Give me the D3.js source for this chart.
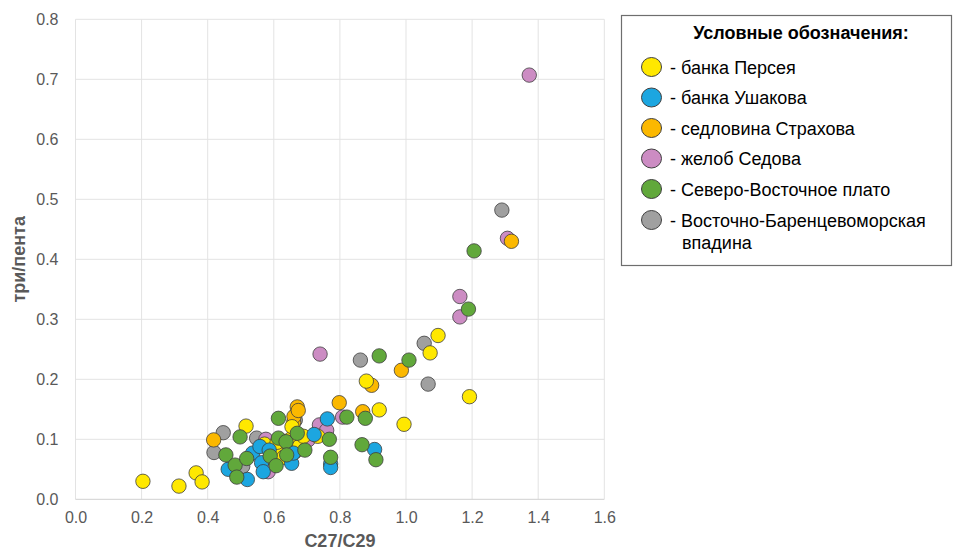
<!DOCTYPE html>
<html>
<head>
<meta charset="utf-8" />
<title>три/пента vs C27/C29</title>
<script src="https://d3js.org/d3.v7.min.js"></script>
<style>
  body, html {
    margin: 0;
    background: #ffffff;
  }
  svg text.tick-label {
    font-family: 'Liberation Sans', Arial, sans-serif;
    font-size: 16px;
    fill: #595959;
  }
  svg text.axis-title {
    font-family: 'Liberation Sans', Arial, sans-serif;
    font-size: 18px;
    font-weight: bold;
    fill: #595959;
  }
  svg text.legend {
    font-family: 'Liberation Sans', Arial, sans-serif;
    font-size: 18px;
    fill: #000000;
  }
</style>
</head>
<body>
<svg id="viz"></svg>
<script>

// series names
var seriesNames = ['банка Персея', 'банка Ушакова', 'седловина Страхова',
  'желоб Седова', 'Северо-Восточное плато', 'Восточно-Баренцевоморская впадина'];
var seriesColors = ['#ffe800', '#1ca6e0', '#fbb800', '#cc8cc3', '#61a83b', '#a0a0a0'];

// [C27/C29, три/пента]
var persei = [[0.204,0.030],[0.313,0.022],[0.365,0.044],[0.383,0.029],[0.516,0.122],
  [0.572,0.092],[0.600,0.080],[0.620,0.085],[0.630,0.070],[0.645,0.090],[0.610,0.095],
  [0.650,0.100],[0.655,0.121],[0.664,0.079],[0.677,0.088],[0.690,0.105],[0.733,0.105],
  [0.880,0.197],[0.919,0.149],[0.994,0.125],[1.073,0.244],[1.097,0.273],[1.192,0.171]];
var ushakov = [[0.462,0.050],[0.520,0.033],[0.536,0.077],[0.558,0.088],[0.563,0.061],
  [0.568,0.046],[0.586,0.082],[0.654,0.060],[0.659,0.077],[0.722,0.108],[0.762,0.134],
  [0.772,0.059],[0.772,0.053],[0.905,0.083]];
var strakhov = [[0.418,0.099],[0.660,0.128],[0.661,0.138],[0.671,0.154],[0.674,0.148],
  [0.798,0.161],[0.869,0.146],[0.896,0.190],[0.986,0.215],[1.319,0.430]];
var sedov = [[0.576,0.100],[0.583,0.046],[0.704,0.099],[0.738,0.124],[0.760,0.115],
  [0.808,0.137],[0.740,0.242],[1.163,0.338],[1.163,0.304],[1.307,0.435],[1.373,0.707]];
var plato = [[0.455,0.074],[0.483,0.057],[0.488,0.037],[0.498,0.104],[0.518,0.068],
  [0.589,0.072],[0.607,0.056],[0.614,0.135],[0.614,0.102],[0.637,0.096],[0.639,0.074],
  [0.671,0.110],[0.694,0.082],[0.768,0.100],[0.772,0.070],[0.821,0.137],[0.867,0.091],
  [0.877,0.135],[0.909,0.066],[0.919,0.239],[1.009,0.232],[1.189,0.317],[1.206,0.414]];
var vpadina = [[0.419,0.078],[0.447,0.111],[0.506,0.055],[0.548,0.102],[0.665,0.132],
  [0.862,0.232],[1.055,0.260],[1.067,0.192],[1.290,0.482]];

var seriesData = [persei, ushakov, strakhov, sedov, plato, vpadina];
// drawing order (back to front)
var drawOrder = [5, 3, 2, 0, 1, 4];

var xTicks = [0, 0.2, 0.4, 0.6, 0.8, 1.0, 1.2, 1.4, 1.6];
var yTicks = [0, 0.1, 0.2, 0.3, 0.4, 0.5, 0.6, 0.7, 0.8];

var width = 953, height = 551;

var svg = d3.select("#viz")
  .attr("width", width)
  .attr("height", height);

var xScale = d3.scaleLinear().domain([0, 1.6]).range([75.5, 604.3]);
var yScale = d3.scaleLinear().domain([0, 0.8]).range([499.3, 19.3]);

// grid
svg.append("g").selectAll("line.vg")
  .data(xTicks)
  .enter().append("line")
  .attr("x1", function(d) { return xScale(d); })
  .attr("x2", function(d) { return xScale(d); })
  .attr("y1", yScale(0.8))
  .attr("y2", yScale(0))
  .attr("stroke", "#e3e3e3")
  .attr("stroke-width", 1);

svg.append("g").selectAll("line.hg")
  .data(yTicks)
  .enter().append("line")
  .attr("x1", xScale(0))
  .attr("x2", xScale(1.6))
  .attr("y1", function(d) { return yScale(d); })
  .attr("y2", function(d) { return yScale(d); })
  .attr("stroke", function(d) { return d === 0 ? "#d0d0d0" : "#e3e3e3"; })
  .attr("stroke-width", 1);

// axes
var xAxis = svg.append("g")
  .attr("transform", "translate(0," + yScale(0) + ")")
  .call(d3.axisBottom(xScale).tickValues(xTicks).tickSize(0).tickPadding(12)
    .tickFormat(d3.format(".1f")));
xAxis.select(".domain").remove();
xAxis.selectAll("text").attr("class", "tick-label").attr("fill", null);

var yAxis = svg.append("g")
  .attr("transform", "translate(" + xScale(0) + ",0)")
  .call(d3.axisLeft(yScale).tickValues(yTicks).tickSize(0).tickPadding(17)
    .tickFormat(d3.format(".1f")));
yAxis.select(".domain").remove();
yAxis.selectAll("text").attr("class", "tick-label").attr("fill", null);

svg.append("text")
  .attr("class", "axis-title")
  .attr("x", (xScale(0) + xScale(1.6)) / 2)
  .attr("y", 547)
  .attr("text-anchor", "middle")
  .text("C27/C29");

svg.append("text")
  .attr("class", "axis-title")
  .attr("font-size", "20px")
  .attr("transform", "translate(25," + yScale(0.4) + ") rotate(-90)")
  .attr("text-anchor", "middle")
  .text("три/пента");

// points
drawOrder.forEach(function(i) {
  svg.append("g").selectAll("circle")
    .data(seriesData[i])
    .enter().append("circle")
    .attr("cx", function(d) { return xScale(d[0]); })
    .attr("cy", function(d) { return yScale(d[1]); })
    .attr("r", 7.2)
    .attr("fill", seriesColors[i])
    .attr("stroke", "#3f3f3f")
    .attr("stroke-width", 0.8);
});

// legend
var legend = svg.append("g");
legend.append("rect")
  .attr("x", 621.5).attr("y", 15.5)
  .attr("width", 330).attr("height", 250)
  .attr("fill", "#ffffff")
  .attr("stroke", "#6e6e6e")
  .attr("stroke-width", 1.2);

legend.append("text")
  .attr("class", "legend")
  .attr("x", 801).attr("y", 39)
  .attr("text-anchor", "middle")
  .attr("font-weight", "bold")
  .attr("font-size", "19px")
  .text("Условные обозначения:");

var rowY = [67, 97.5, 128, 158.5, 189, 220];
seriesNames.forEach(function(name, i) {
  legend.append("ellipse")
    .attr("cx", 651.5).attr("cy", rowY[i])
    .attr("rx", 10).attr("ry", 9.5)
    .attr("fill", seriesColors[i])
    .attr("stroke", "#3f3f3f")
    .attr("stroke-width", 1);
  var t = legend.append("text")
    .attr("class", "legend")
    .attr("x", 670).attr("y", rowY[i] + 6.5);
  if (i === 5) {
    t.text("- Восточно-Баренцевоморская");
    legend.append("text").attr("class", "legend")
      .attr("x", 682).attr("y", rowY[i] + 29).text("впадина");
  } else {
    t.text("- " + name);
  }
});

</script>
</body>
</html>
